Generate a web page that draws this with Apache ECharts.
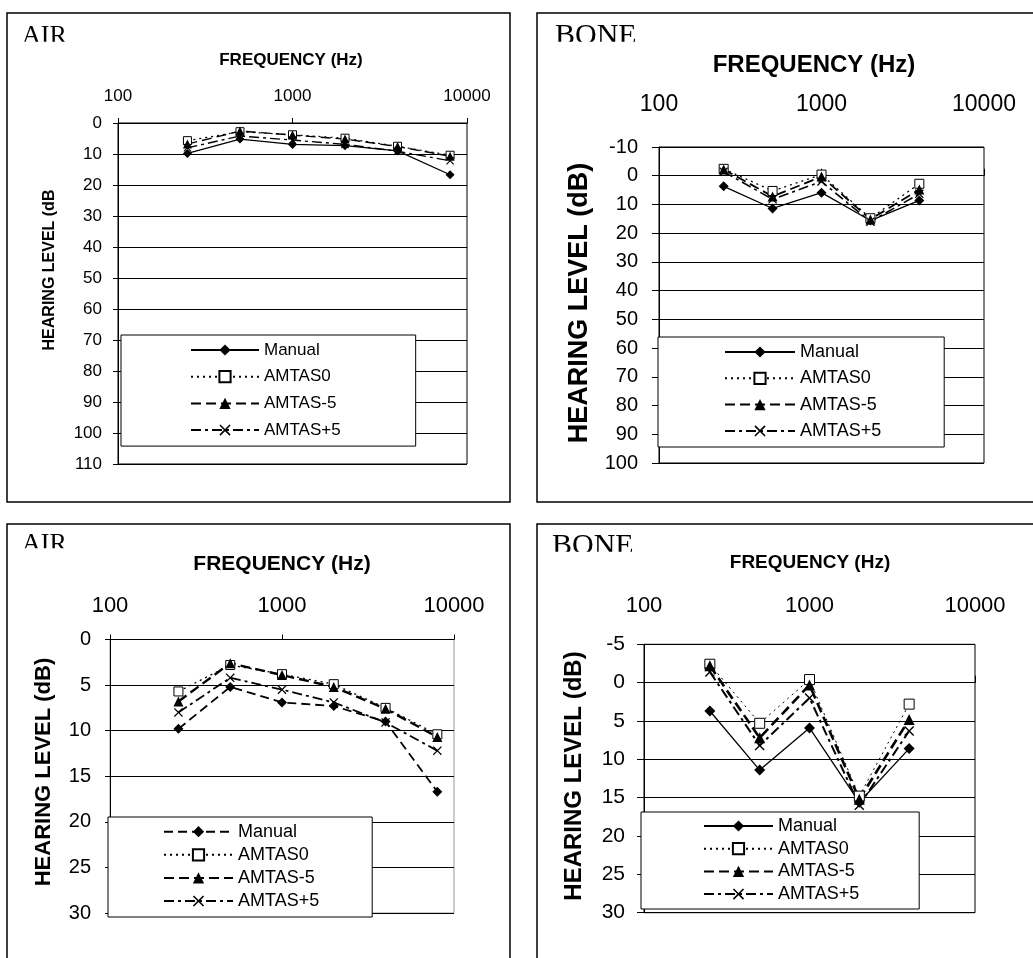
<!DOCTYPE html>
<html><head><meta charset="utf-8">
<script src="https://cdn.jsdelivr.net/npm/echarts@6/dist/echarts.min.js"></script>
<style>
html,body{margin:0;padding:0;background:#fff;width:1033px;height:958px;overflow:hidden;}
.p{position:absolute;left:0;top:0;width:1033px;height:958px;}
</style></head><body>
<div id="c1" class="p"></div>
<div id="c2" class="p"></div>
<div id="c3" class="p"></div>
<div id="c4" class="p"></div>
<script>
// ---- data ----
const seriesNames = ['Manual', 'AMTAS0', 'AMTAS-5', 'AMTAS+5'];
const freqTicks = [100, 1000, 10000];
const airFreq = [250, 500, 1000, 2000, 4000, 8000];
const airManual = [9.8, 5.2, 6.9, 7.3, 9.0, 16.7];
const airAmtas0 = [5.7, 2.8, 3.8, 4.9, 7.5, 10.4];
const airAmtasMinus5 = [6.8, 2.6, 3.9, 5.2, 7.6, 10.7];
const airAmtasPlus5 = [8.0, 4.2, 5.5, 6.9, 9.1, 12.2];
const boneFreq = [250, 500, 1000, 2000, 4000];
const boneManual = [3.7, 11.4, 5.9, 15.6, 8.6];
const boneAmtas0 = [-2.4, 5.3, -0.4, 14.8, 2.8];
const boneAmtasMinus5 = [-2.2, 7.2, 0.3, 15.2, 4.8];
const boneAmtasPlus5 = [-1.4, 8.2, 2.0, 16.0, 6.3];

const AIR = {freq: airFreq, values: [airManual, airAmtas0, airAmtasMinus5, airAmtasPlus5]};
const BONE = {freq: boneFreq, values: [boneManual, boneAmtas0, boneAmtasMinus5, boneAmtasPlus5]};

const SANS = 'Liberation Sans';
const SERIF = 'Liberation Serif';
const XPATH = 'path://M1,0L5,4L9,0L10,1L6,5L10,9L9,10L5,6L1,10L0,9L4,5L0,1Z';

function build(id, c) {
  const chart = echarts.init(document.getElementById(id));
  const symbols = ['diamond', 'rect', 'triangle', XPATH];
  const fills = ['#000', '#fff', '#000', '#000'];
  const series = seriesNames.map((name, k) => ({
    name: name,
    type: 'line',
    data: c.data.freq.map((f, i) => [f, c.data.values[k][i]]),
    symbol: symbols[k],
    symbolSize: c.sizes[k],
    showSymbol: true,
    lineStyle: {color: '#000', width: c.widths[k], type: c.dashes[k]},
    itemStyle: {color: fills[k], borderColor: '#000', borderWidth: k === 1 ? 1 : 0},
    emphasis: {disabled: true},
    animation: false
  }));
  const g = c.grid;
  chart.setOption({
    animation: false,
    backgroundColor: 'transparent',
    grid: {left: g[0], top: g[1], width: g[2], height: g[3], show: true,
           borderColor: c.borderColor, borderWidth: 1, backgroundColor: 'transparent',
           containLabel: false, outerBoundsMode: 'none'},
    xAxis: {
      type: 'log', logBase: 10, position: 'top',
      min: freqTicks[0], max: freqTicks[freqTicks.length - 1],
      axisLine: {show: true, lineStyle: {color: '#000', width: 1}},
      axisTick: {show: true, inside: false, length: c.tickLen, lineStyle: {color: '#000'}},
      axisLabel: {show: true, margin: c.xMargin, color: '#000', fontFamily: SANS, fontSize: c.fontX,
                  formatter: v => String(Math.round(v))},
      splitLine: {show: false}, minorTick: {show: false}, minorSplitLine: {show: false}
    },
    yAxis: {
      type: 'value', inverse: true, min: c.y[0], max: c.y[1], interval: c.y[2],
      axisLine: {show: true, lineStyle: {color: '#000', width: 1}},
      axisTick: {show: true, inside: false, length: c.tickLen, lineStyle: {color: '#000'}},
      axisLabel: {show: true, margin: c.yMargin, color: '#000', fontFamily: SANS, fontSize: c.fontY},
      splitLine: {show: true, lineStyle: {color: '#000', width: 1}}
    },
    legend: {
      show: true, orient: 'vertical', left: c.legend.left, top: c.legend.top,
      padding: c.legend.padding, itemWidth: c.legend.itemWidth, itemHeight: 14,
      itemGap: c.legend.itemGap, backgroundColor: '#fff', borderColor: '#000', borderWidth: 1,
      borderRadius: 0, selectedMode: false, align: 'left',
      textStyle: {color: '#000', fontFamily: SANS, fontSize: c.legend.font, lineHeight: c.legend.lh},
      data: seriesNames
    },
    graphic: [
      {type: 'rect', shape: {x: c.box[0], y: c.box[1], width: c.box[2], height: c.box[3]},
       style: {fill: 'none', stroke: '#000', lineWidth: 1.5}, silent: true},
      {type: 'text', x: c.title.x, y: c.title.y, silent: true,
       style: {text: c.title.text, font: c.title.size + 'px "' + SERIF + '"', fill: '#000',
               textAlign: 'left', textVerticalAlign: 'middle'}},
      {type: 'rect', shape: {x: c.title.x - 4, y: c.title.cut, width: 110, height: c.title.cutH},
       style: {fill: '#fff'}, silent: true},
      {type: 'text', x: c.freq.x, y: c.freq.y, silent: true,
       style: {text: 'FREQUENCY (Hz)', font: 'bold ' + c.freq.size + 'px "' + SANS + '"', fill: '#000',
               textAlign: 'center', textVerticalAlign: 'middle'}},
      {type: 'text', x: c.hl.x, y: c.hl.y, rotation: Math.PI / 2, silent: true,
       style: {text: c.hl.text, font: 'bold ' + c.hl.size + 'px "' + SANS + '"', fill: '#000',
               textAlign: 'center', textVerticalAlign: 'middle'}}
    ],
    series: series
  });
}

build('c1', {
  data: AIR, grid: [118, 123, 349, 341], y: [0, 110, 10], borderColor: '#000',
  fontX: 17, fontY: 17, xMargin: 18, yMargin: 16, tickLen: 5,
  sizes: [9, 8, 9, 8], widths: [1.2, 1.2, 1.4, 1.4],
  dashes: ['solid', [2, 4], [10, 5], [10, 4, 3, 4]],
  box: [7, 13, 503, 489],
  title: {text: 'AIR', x: 22, y: 36, size: 26, cut: 41.7, cutH: 7},
  freq: {x: 291, y: 60, size: 17},
  hl: {text: 'HEARING LEVEL (dB', x: 50, y: 270, size: 16},
  legend: {left: 121, top: 335, padding: [6, 75, 7, 69], itemWidth: 68, itemGap: 8.7, font: 17, lh: 18}
});
build('c2', {
  data: BONE, grid: [659, 147, 325, 316], y: [-10, 100, 10], borderColor: '#000',
  fontX: 23, fontY: 20, xMargin: 31, yMargin: 21, tickLen: 7,
  sizes: [10, 9, 10, 9], widths: [1.3, 1.3, 1.8, 1.6],
  dashes: ['solid', [2, 4], [10, 5], [10, 4, 3, 4]],
  box: [537, 13, 600, 489],
  title: {text: 'BONE', x: 555, y: 36, size: 30, cut: 41.7, cutH: 7},
  freq: {x: 814, y: 65, size: 24},
  hl: {text: 'HEARING LEVEL (dB)', x: 580, y: 303, size: 27},
  legend: {left: 658, top: 337, padding: [5.5, 63, 6.6, 66], itemWidth: 70, itemGap: 7.3, font: 18, lh: 19}
});
build('c3', {
  data: AIR, grid: [110, 639.5, 344, 273.5], y: [0, 30, 5], borderColor: '#999',
  fontX: 22, fontY: 20, xMargin: 23, yMargin: 19, tickLen: 5,
  sizes: [10, 9, 10, 9], widths: [1.8, 1.3, 2.4, 1.8],
  dashes: [[9, 5], [2, 4], [10, 5], [10, 4, 3, 4]],
  box: [7, 524, 503, 500],
  title: {text: 'AIR', x: 22, y: 544, size: 26, cut: 548.3, cutH: 6},
  freq: {x: 282, y: 564, size: 21},
  hl: {text: 'HEARING LEVEL (dB)', x: 44, y: 772, size: 22},
  legend: {left: 108, top: 817, padding: [5.2, 53, 6.5, 55], itemWidth: 69, itemGap: 4.1, font: 18, lh: 19}
});
build('c4', {
  data: BONE, grid: [644, 644.3, 331, 268.4], y: [-5, 30, 5], borderColor: '#000',
  fontX: 22, fontY: 21, xMargin: 27, yMargin: 19, tickLen: 7,
  sizes: [11, 10, 11, 10], widths: [1.3, 1.0, 2.6, 2.0],
  dashes: ['solid', [2, 4], [10, 5], [10, 4, 3, 4]],
  box: [537, 524, 600, 500],
  title: {text: 'BONE', x: 552, y: 546, size: 30, cut: 551.7, cutH: 3.5},
  freq: {x: 810, y: 563, size: 19},
  hl: {text: 'HEARING LEVEL (dB)', x: 574, y: 776, size: 24},
  legend: {left: 641, top: 812, padding: [4.5, 60, 5.4, 62], itemWidth: 69, itemGap: 3.7, font: 18, lh: 19}
});
</script>
</body></html>
